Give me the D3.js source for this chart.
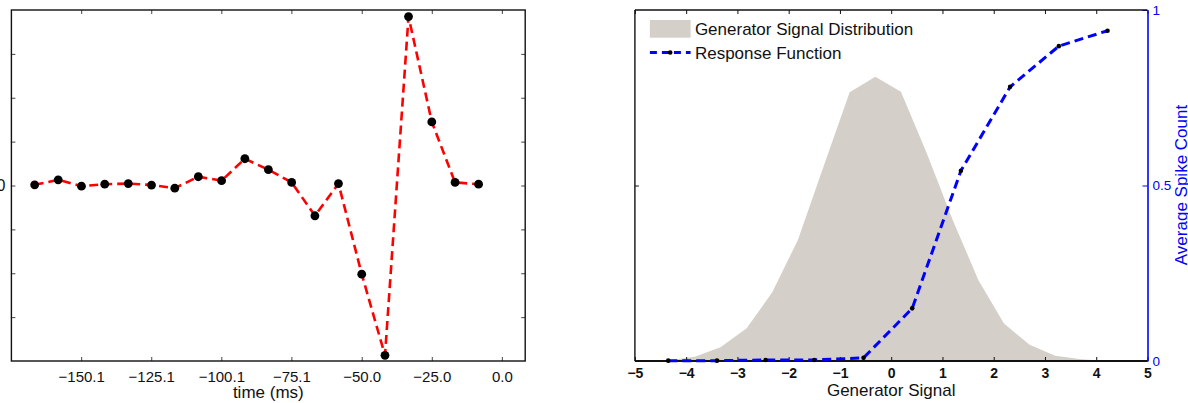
<!DOCTYPE html>
<html>
<head>
<meta charset="utf-8">
<script src="https://cdn.jsdelivr.net/npm/d3@7"></script>
<style>
  html, body { margin: 0; padding: 0; background: #fff; }
  svg { display: block; font-family: "Liberation Sans", Arial, Helvetica, sans-serif; }
</style>
</head>
<body>
<svg id="chart" width="1188" height="403"></svg>
<script>
// ---- Spike-triggered average (left panel) ----
const timeMs = [-166.7, -158.3, -150.0, -141.7, -133.3, -125.0, -116.7, -108.3, -100.0, -91.7,
                -83.3, -75.0, -66.7, -58.3, -50.0, -41.7, -33.3, -25.0, -16.7, -8.3];
const staValues = [0.015, 0.13, -0.015, 0.03, 0.045, 0.01, -0.06, 0.2, 0.11, 0.61,
                   0.36, 0.07, -0.69, 0.045, -2.02, -3.87, 3.85, 1.45, 0.07, 0.03];
const timeTickValues = [-150.1, -125.1, -100.1, -75.1, -50.0, -25.0, 0.0];
const timeTickLabels = ["\u2212150.1", "\u2212125.1", "\u2212100.1", "\u221275.1", "\u221250.0", "\u221225.0", "0.0"];
const staTickValues = [-3, -2, -1, 0, 1, 2, 3];

// ---- Generator signal distribution and response function (right panel) ----
const genSignalBins = [-4.33, -3.83, -3.33, -2.82, -2.32, -1.82, -1.32, -0.81, -0.31,
                       0.19, 0.69, 1.20, 1.70, 2.20, 2.70, 3.20, 3.71, 4.21];
const genSignalDensity = [0.002, 0.012, 0.039, 0.093, 0.196, 0.345, 0.554, 0.766, 0.810,
                          0.767, 0.593, 0.402, 0.231, 0.107, 0.046, 0.015, 0.005, 0.0];
const responseX = [-4.35, -3.40, -2.45, -1.50, -0.54, 0.41, 1.36, 2.32, 3.27, 4.22];
const responseY = [0.001, 0.001, 0.003, 0.003, 0.009, 0.150, 0.542, 0.781, 0.897, 0.941];
const genTickValues = [-5, -4, -3, -2, -1, 0, 1, 2, 3, 4, 5];
const spikeTickValues = [0, 0.5, 1];
const legendLabels = ["Generator Signal Distribution", "Response Function"];

const svg = d3.select("#chart");
const fillGrey = "#d4d0c9";
const blue = "#0000ff";
const tickGrey = "#444";

// =================== Left panel ===================
const L = { left: 11.4, right: 525.2, top: 10, bottom: 361 };
const xL = d3.scaleLinear().domain([-175, 8.33]).range([L.left, L.right]);
const yL = d3.scaleLinear().domain([-4, 4]).range([L.bottom, L.top]);
const gL = svg.append("g");

// inward ticks on all four sides
const bottomL = gL.append("g").attr("transform", `translate(0,${L.bottom})`)
  .call(d3.axisBottom(xL).tickValues(timeTickValues).tickSizeInner(-4).tickSizeOuter(0)
        .tickFormat((d, i) => timeTickLabels[i]));
bottomL.select(".domain").remove();
bottomL.selectAll("line").attr("stroke", tickGrey);
bottomL.selectAll("text").attr("y", 21).attr("dy", null)
  .attr("font-size", 15).attr("font-family", null).attr("fill", "#111");

const topL = gL.append("g").attr("transform", `translate(0,${L.top})`)
  .call(d3.axisTop(xL).tickValues(timeTickValues).tickSizeInner(-4).tickSizeOuter(0).tickFormat(""));
topL.select(".domain").remove();
topL.selectAll("line").attr("stroke", tickGrey);

const leftL = gL.append("g").attr("transform", `translate(${L.left},0)`)
  .call(d3.axisLeft(yL).tickValues(staTickValues).tickSizeInner(-4).tickSizeOuter(0)
        .tickFormat(d => d === 0 ? "0" : ""));
leftL.select(".domain").remove();
leftL.selectAll("line").attr("stroke", tickGrey);
leftL.selectAll("text").attr("x", -6).attr("font-size", 16).attr("font-family", null).attr("fill", "#111");

const rightL = gL.append("g").attr("transform", `translate(${L.right},0)`)
  .call(d3.axisRight(yL).tickValues(staTickValues).tickSizeInner(-4).tickSizeOuter(0).tickFormat(""));
rightL.select(".domain").remove();
rightL.selectAll("line").attr("stroke", tickGrey);

gL.append("rect")
  .attr("x", L.left).attr("y", L.top)
  .attr("width", L.right - L.left).attr("height", L.bottom - L.top)
  .attr("fill", "none").attr("stroke", "#111").attr("stroke-width", 1.4);

const staLine = d3.line().x((d, i) => xL(timeMs[i])).y(d => yL(d));
gL.append("path").datum(staValues)
  .attr("d", staLine)
  .attr("fill", "none").attr("stroke", "#ff0000").attr("stroke-width", 2.6)
  .attr("stroke-dasharray", "9,5");

gL.selectAll("circle.sta").data(staValues).join("circle")
  .attr("class", "sta")
  .attr("cx", (d, i) => xL(timeMs[i])).attr("cy", d => yL(d))
  .attr("r", 4.4).attr("fill", "#000");

gL.append("text")
  .attr("x", (L.left + L.right) / 2).attr("y", 398)
  .attr("text-anchor", "middle").attr("font-size", 17).attr("fill", "#111")
  .text("time (ms)");

// =================== Right panel ===================
const R = { left: 634.9, right: 1147.5, top: 10, bottom: 361 };
const xR = d3.scaleLinear().domain([-5, 5]).range([R.left, R.right]);
const yDist = d3.scaleLinear().domain([0, 1]).range([R.bottom, R.top]);
const yResp = d3.scaleLinear().domain([0, 1]).range([R.bottom, R.top]);
const gR = svg.append("g");

// generator signal distribution (filled)
const distArea = d3.area()
  .x((d, i) => xR(genSignalBins[i]))
  .y0(yDist(0))
  .y1(d => yDist(d));
gR.append("path").datum(genSignalDensity)
  .attr("d", distArea).attr("fill", fillGrey).attr("stroke", "none");

// bottom axis with bold tick labels
const bottomR = gR.append("g").attr("transform", `translate(0,${R.bottom})`)
  .call(d3.axisBottom(xR).tickValues(genTickValues).tickSizeInner(-4).tickSizeOuter(0));
bottomR.select(".domain").remove();
bottomR.selectAll("line").attr("stroke", "#111");
bottomR.selectAll("text").attr("y", 17).attr("dy", null)
  .attr("font-size", 14).attr("font-weight", "bold").attr("font-family", null).attr("fill", "#111");

const topR = gR.append("g").attr("transform", `translate(0,${R.top})`)
  .call(d3.axisTop(xR).tickValues(genTickValues).tickSizeInner(-4).tickSizeOuter(0).tickFormat(""));
topR.select(".domain").remove();
topR.selectAll("line").attr("stroke", "#111");

const leftR = gR.append("g").attr("transform", `translate(${R.left},0)`)
  .call(d3.axisLeft(yDist).tickValues([0.5]).tickSizeInner(-4).tickSizeOuter(0).tickFormat(""));
leftR.select(".domain").remove();
leftR.selectAll("line").attr("stroke", "#111");

// right axis (blue) for the response function
const rightR = gR.append("g").attr("transform", `translate(${R.right},0)`)
  .call(d3.axisRight(yResp).tickValues(spikeTickValues).tickSizeInner(-5).tickSizeOuter(0)
        .tickPadding(5).tickFormat(d3.format("~g")));
rightR.select(".domain").attr("stroke", blue).attr("stroke-width", 1.6);
rightR.selectAll("line").attr("stroke", blue);
rightR.selectAll("text").attr("fill", blue).attr("font-size", 13.5).attr("font-family", null);

// black frame lines: left, top, bottom
gR.append("line").attr("x1", R.left).attr("x2", R.left).attr("y1", R.top).attr("y2", R.bottom)
  .attr("stroke", "#111").attr("stroke-width", 1.4);
gR.append("line").attr("x1", R.left).attr("x2", R.right).attr("y1", R.top).attr("y2", R.top)
  .attr("stroke", "#111").attr("stroke-width", 1.4);
gR.append("line").attr("x1", R.left).attr("x2", R.right).attr("y1", R.bottom).attr("y2", R.bottom)
  .attr("stroke", "#111").attr("stroke-width", 2);

// response function
const respLine = d3.line().x((d, i) => xR(responseX[i])).y(d => yResp(d));
gR.append("path").datum(responseY)
  .attr("d", respLine)
  .attr("fill", "none").attr("stroke", blue).attr("stroke-width", 3)
  .attr("stroke-dasharray", "9,5");
gR.selectAll("circle.resp").data(responseY).join("circle")
  .attr("class", "resp")
  .attr("cx", (d, i) => xR(responseX[i])).attr("cy", d => yResp(d))
  .attr("r", 2.3).attr("fill", "#000");

// axis titles
gR.append("text")
  .attr("x", (R.left + R.right) / 2).attr("y", 396)
  .attr("text-anchor", "middle").attr("font-size", 17).attr("fill", "#111")
  .text("Generator Signal");
gR.append("text")
  .attr("transform", `translate(1187,185) rotate(-90)`)
  .attr("text-anchor", "middle").attr("font-size", 17).attr("fill", blue)
  .text("Average Spike Count");

// legend
const lg = gR.append("g").attr("transform", `translate(${R.left + 15},0)`);
lg.append("rect").attr("x", 0).attr("y", 20).attr("width", 40.7).attr("height", 17.7).attr("fill", fillGrey);
lg.append("text").attr("x", 45).attr("y", 35).attr("font-size", 17).attr("fill", "#111").text(legendLabels[0]);
lg.append("line").attr("x1", 0).attr("x2", 40.7).attr("y1", 52.5).attr("y2", 52.5)
  .attr("stroke", blue).attr("stroke-width", 3).attr("stroke-dasharray", "7,5");
lg.append("circle").attr("cx", 20.3).attr("cy", 52.5).attr("r", 2.3).attr("fill", "#000");
lg.append("text").attr("x", 45).attr("y", 58.5).attr("font-size", 17).attr("fill", "#111").text(legendLabels[1]);
</script>
</body>
</html>
